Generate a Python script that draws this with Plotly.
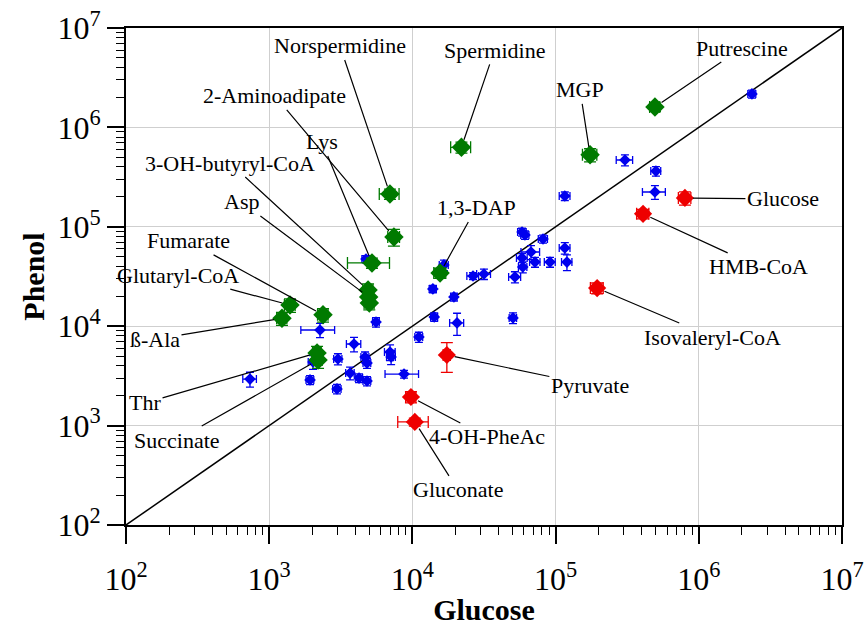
import numpy as np
import plotly.graph_objects as go

# ---------------- data ----------------
blue_x = [2263, 3910, 3020, 4670, 4820, 3670, 4240, 4820, 2975, 1928, 734, 2023, 5570, 4740,
          6980, 7100, 8740, 11100, 14200, 19500, 20500, 13900, 16600, 26500, 31600, 52000,
          50400, 58300, 61100, 81700, 67300, 58300, 59000, 71800, 91400, 116000, 120000,
          305000, 502000, 494000, 116000, 2350000]
blue_y = [9160, 6620, 4680, 4900, 4260, 3380, 3010, 2810, 2340, 2880, 2940, 4370, 11000, 47400,
          5500, 4900, 3300, 7790, 12400, 19700, 10800, 23700, 41300, 32000, 33500, 31300,
          12100, 88700, 82700, 75400, 55800, 48600, 39400, 44200, 44200, 61200, 44200,
          470000, 364000, 224000, 204000, 2170000]
blue_xerr = [600, 450, 200, 300, 300, 250, 250, 300, 200, 120, 80, 150, 300, 300,
             600, 500, 2300, 700, 800, 1000, 2300, 800, 1200, 2500, 3500, 5000,
             3000, 4000, 4000, 6000, 10000, 5000, 4000, 6000, 8000, 10000, 10000,
             40000, 40000, 90000, 10000, 150000]
blue_yerr = [1500, 1100, 600, 600, 500, 500, 300, 300, 250, 300, 500, 700, 1200, 4000,
             1000, 800, 300, 900, 1200, 1800, 2700, 2000, 5000, 2500, 4000, 4000,
             1500, 8000, 8000, 7000, 9000, 5000, 5000, 5000, 5000, 8000, 8000,
             60000, 40000, 35000, 20000, 200000]

green_names = ["Putrescine", "MGP", "Spermidine", "Norspermidine", "2-Aminoadipate", "Lys",
               "3-OH-butyryl-CoA", "Asp", "", "1,3-DAP", "Fumarate", "Glutaryl-CoA",
               "ß-Ala", "Thr", "Succinate"]
green_x = [494000, 174000, 22000, 6970, 7430, 5220, 4900, 4950, 5000, 15600, 2376, 1397, 1228, 2158, 2193]
green_y = [1600000, 530000, 630000, 214000, 79000, 43300, 23100, 19700, 17100, 34300, 13000, 16300, 12000, 5380, 4570]
green_xerr = [40000, 20000, 3500, 1100, 700, 1700, 400, 400, 400, 1500, 200, 120, 100, 150, 150]
green_yerr = [150000, 80000, 80000, 25000, 15000, 5000, 3500, 3000, 2500, 4000, 2000, 2500, 1800, 900, 800]

red_names = ["Glucose", "HMB-CoA", "Isovaleryl-CoA", "Pyruvate", "4-OH-PheAc", "Gluconate"]
red_x = [800000, 408000, 195000, 17400, 9770, 10400]
red_y = [195000, 135000, 24200, 5130, 1940, 1090]
red_xerr = [80000, 40000, 20000, 1000, 800, 2500]
red_yerr = [30000, 15000, 3000, 1700, 250, 100]

diag = [1e2, 1e7]
tick_vals = [1e2, 1e3, 1e4, 1e5, 1e6, 1e7]
tick_text = ["10<sup>2</sup>", "10<sup>3</sup>", "10<sup>4</sup>", "10<sup>5</sup>",
             "10<sup>6</sup>", "10<sup>7</sup>"]
minor_vals = [m * d for d in tick_vals[:-1] for m in range(2, 10)]

# label placement (pixel offsets of label text from its point)
label_offsets = {
    "Putrescine": (87, -59), "MGP": (-10, -65), "Spermidine": (33, -97),
    "Norspermidine": (-50, -148), "2-Aminoadipate": (-119, -141), "Lys": (-50, -121),
    "3-OH-butyryl-CoA": (-138, -127), "Asp": (-127, -95), "1,3-DAP": (36, -65),
    "Fumarate": (-135, -74), "Glutaryl-CoA": (-112, -30), "ß-Ala": (-127, 21),
    "Thr": (-172, 50), "Succinate": (-141, 80),
    "Glucose": (98, 1), "HMB-CoA": (115, 53), "Isovaleryl-CoA": (115, 49),
    "Pyruvate": (143, 30), "4-OH-PheAc": (76, 40), "Gluconate": (43, 68),
}

FONT = "Liberation Serif, Times New Roman, serif"

fig = go.Figure()

fig.add_trace(go.Scatter(x=diag, y=diag, mode="lines",
                         line=dict(color="black", width=1.5), hoverinfo="skip"))


def add_group(xs, ys, xe, ye, color, size, thick, width):
    fig.add_trace(go.Scatter(
        x=xs, y=ys, mode="markers",
        marker=dict(symbol="diamond", size=size, color=color, line=dict(width=0)),
        error_x=dict(type="data", array=xe, color=color, thickness=thick, width=width, visible=True),
        error_y=dict(type="data", array=ye, color=color, thickness=thick, width=width, visible=True),
    ))


add_group(blue_x, blue_y, blue_xerr, blue_yerr, "#0000ee", 9, 1.3, 4)
add_group(green_x, green_y, green_xerr, green_yerr, "#007a00", 15, 1.3, 6)
add_group(red_x, red_y, red_xerr, red_yerr, "#ee0000", 14, 1.3, 6)

annotations = []
for names, xs, ys in ((green_names, green_x, green_y), (red_names, red_x, red_y)):
    for n, xv, yv in zip(names, xs, ys):
        if not n:
            continue
        ax, ay = label_offsets[n]
        annotations.append(dict(
            x=np.log10(xv), y=np.log10(yv), xref="x", yref="y", text=n,
            showarrow=True, arrowhead=0, arrowwidth=1.2, arrowcolor="black",
            ax=ax, ay=ay, standoff=8, font=dict(family=FONT, size=22, color="black"),
        ))

axis_common = dict(
    type="log", range=[2, 7], tickmode="array", tickvals=tick_vals, ticktext=tick_text,
    ticks="outside", ticklen=17, tickwidth=1.5, tickcolor="black",
    showline=True, linecolor="black", linewidth=2, mirror=True,
    showgrid=True, gridcolor="#cfcfcf", gridwidth=1, zeroline=False,
    automargin=False,
    tickfont=dict(family=FONT, size=32, color="black"),
    minor=dict(tickmode="array", tickvals=minor_vals, ticks="outside", ticklen=8,
               tickwidth=1.2, tickcolor="black", showgrid=False),
)

fig.update_layout(
    width=868, height=626,
    margin=dict(l=126, r=26, t=28, b=101, autoexpand=False),
    paper_bgcolor="white", plot_bgcolor="white",
    showlegend=False,
    annotations=annotations,
    xaxis=dict(axis_common, ticklabelstandoff=8,
               title=dict(text="<b>Glucose</b>", standoff=0,
                          font=dict(family=FONT, size=30, color="black"))),
    yaxis=dict(axis_common, title=dict(text="<b>Phenol</b>", standoff=4,
                                       font=dict(family=FONT, size=30, color="black"))),
)

fig.write_html("out.html", config={"displayModeBar": False},
               post_script="document.body.style.margin='0';document.body.style.padding='0';")
